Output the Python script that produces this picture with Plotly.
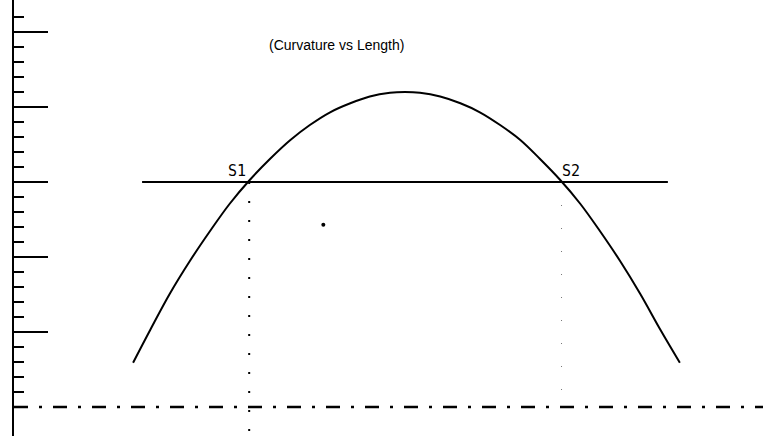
import plotly.graph_objects as go

# curvature along the length
length = [1.59, 1.82, 2.08, 2.35, 2.62, 2.88, 3.15, 3.42, 3.69, 3.95, 4.22, 4.49, 4.75, 5.02, 5.22,
          5.42, 5.69, 5.96, 6.22, 6.49, 6.76, 7.02, 7.29, 7.56, 7.82, 8.09, 8.36, 8.63, 8.89]
curvature = [0.59, 1.03, 1.51, 1.95, 2.35, 2.71, 3.03, 3.31, 3.56, 3.76, 3.93, 4.05, 4.14, 4.19, 4.20,
             4.19, 4.14, 4.05, 3.93, 3.76, 3.56, 3.31, 3.03, 2.71, 2.35, 1.95, 1.51, 1.03, 0.59]

threshold = 3.0
threshold_span = [1.71, 8.73]
s1 = 3.14
s2 = 7.31
s1_drop = [3.0, -0.33]
s2_drop = [3.0, 0.1]
stray_dot = [4.13, 2.43]
length_axis = [0, 10]

major_ticks = [1, 2, 3, 4, 5]
minor_ticks = [0.2, 0.4, 0.6, 0.8,
               1.2, 1.4, 1.6, 1.8,
               2.2, 2.4, 2.6, 2.8,
               3.2, 3.4, 3.6, 3.8,
               4.2, 4.4, 4.6, 4.8,
               5.2]

fig = go.Figure()

# dash-dot length axis
fig.add_trace(go.Scatter(x=length_axis, y=[0, 0], mode="lines",
                         line=dict(color="black", width=2.5, dash="14px,11px,3px,11px")))

# dotted drops at S1 and S2
fig.add_trace(go.Scatter(x=[s1, s1], y=s1_drop, mode="lines",
                         line=dict(color="black", width=2, dash="2px,17px")))
fig.add_trace(go.Scatter(x=[s2, s2], y=s2_drop, mode="lines",
                         line=dict(color="#777777", width=1, dash="1px,22px")))

# threshold line
fig.add_trace(go.Scatter(x=threshold_span, y=[threshold, threshold], mode="lines",
                         line=dict(color="black", width=2)))

# the curve
fig.add_trace(go.Scatter(x=length, y=curvature, mode="lines",
                         line=dict(color="black", width=2, shape="spline", smoothing=1.0)))

fig.add_trace(go.Scatter(x=[stray_dot[0]], y=[stray_dot[1]], mode="markers",
                         marker=dict(color="black", size=4)))

fig.add_annotation(x=4.31, y=4.83, text="(Curvature vs Length)", showarrow=False,
                   font=dict(family="Liberation Sans", size=14, color="black"))
fig.add_annotation(x=2.98, y=3.0, yanchor="bottom", text="S1", showarrow=False,
                   font=dict(family="DejaVu Sans Mono", size=15, color="black"))
fig.add_annotation(x=7.44, y=3.0, yanchor="bottom", text="S2", showarrow=False,
                   font=dict(family="DejaVu Sans Mono", size=15, color="black"))

fig.update_layout(
    width=763, height=436,
    margin=dict(l=14, r=0, t=0, b=0),
    paper_bgcolor="white", plot_bgcolor="white",
    showlegend=False,
    xaxis=dict(range=[0, 10], showgrid=False, zeroline=False,
               showticklabels=False, showline=False, ticks=""),
    yaxis=dict(range=[-0.387, 5.427], showgrid=False, zeroline=False,
               showticklabels=False, showline=True, linecolor="black", linewidth=2,
               tickmode="array", tickvals=major_ticks, ticks="inside",
               ticklen=34, tickwidth=2, tickcolor="black",
               minor=dict(tickmode="array", tickvals=minor_ticks, ticks="inside",
                          ticklen=10, tickwidth=2, tickcolor="black")),
)

fig.write_html("out.html", config={"displayModeBar": False},
               post_script="document.body.style.margin='0';")
